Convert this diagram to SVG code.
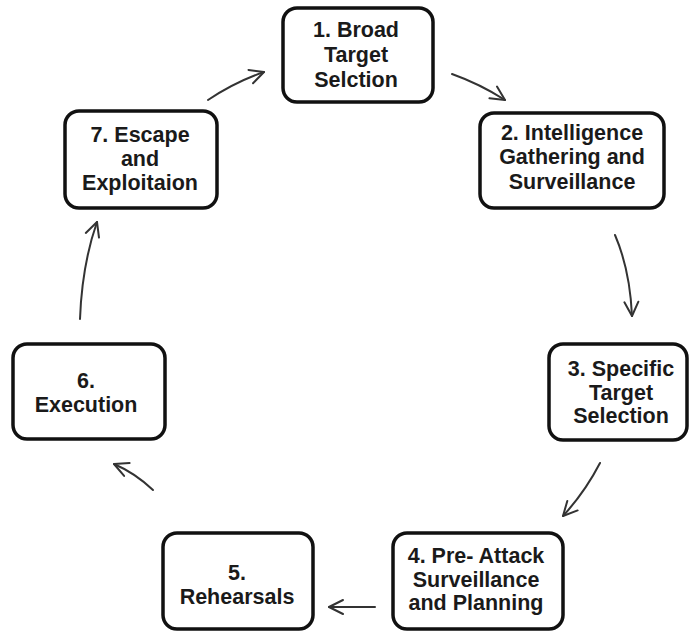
<svg xmlns="http://www.w3.org/2000/svg" width="691" height="631" viewBox="0 0 691 631">
<defs>
<marker id="ah" viewBox="0 0 20 20" refX="18" refY="10" markerWidth="20" markerHeight="20" markerUnits="userSpaceOnUse" orient="auto">
<path d="M4,3 L18,10 L4,17" fill="none" stroke="#333" stroke-width="2" stroke-linecap="round" stroke-linejoin="round"/>
</marker>
<style>
.box{fill:#fff;stroke:#111;stroke-width:3.5}
.t{font-family:"Liberation Sans",Arial,sans-serif;font-weight:bold;font-size:21.5px;fill:#1a1a1a;text-anchor:middle}
.c{fill:none;stroke:#333;stroke-width:2;stroke-linecap:round;marker-end:url(#ah)}
</style>
</defs>
<rect width="691" height="631" fill="#fff"/>
<g id="connectors">
<path class="c" d="M452,74 Q480,84 505,100"/>
<path class="c" d="M615,235 Q630,270 632,316"/>
<path class="c" d="M600,463 Q585,492 563,516"/>
<path class="c" d="M375,607 L329,607"/>
<path class="c" d="M153,490 Q135,473 114,464"/>
<path class="c" d="M80,319 Q82,265 97,222"/>
<path class="c" d="M208,100 Q235,82 264,72"/>
</g>
<g id="n1"><rect class="box" x="283" y="8" width="150" height="94" rx="14"/>
<text class="t" x="356" y="37">1. Broad</text><text class="t" x="356" y="62">Target</text><text class="t" x="356" y="87">Selction</text></g>
<g id="n2"><rect class="box" x="480" y="113" width="184" height="95" rx="14"/>
<text class="t" x="572" y="140">2. Intelligence</text><text class="t" x="572" y="164">Gathering and</text><text class="t" x="572" y="189">Surveillance</text></g>
<g id="n3"><rect class="box" x="549" y="344" width="138" height="96" rx="14"/>
<text class="t" x="621" y="376">3. Specific</text><text class="t" x="621" y="400">Target</text><text class="t" x="621" y="423">Selection</text></g>
<g id="n4"><rect class="box" x="393" y="533" width="170" height="96" rx="14"/>
<text class="t" x="476" y="563">4. Pre- Attack</text><text class="t" x="476" y="587">Surveillance</text><text class="t" x="476" y="610">and Planning</text></g>
<g id="n5"><rect class="box" x="163" y="533" width="150" height="96" rx="14"/>
<text class="t" x="237" y="580">5.</text><text class="t" x="237" y="604">Rehearsals</text></g>
<g id="n6"><rect class="box" x="13" y="344" width="152" height="95" rx="14"/>
<text class="t" x="86" y="388">6.</text><text class="t" x="86" y="412">Execution</text></g>
<g id="n7"><rect class="box" x="65" y="111" width="152" height="97" rx="14"/>
<text class="t" x="140" y="142">7. Escape</text><text class="t" x="140" y="166">and</text><text class="t" x="140" y="190">Exploitaion</text></g>
</svg>
